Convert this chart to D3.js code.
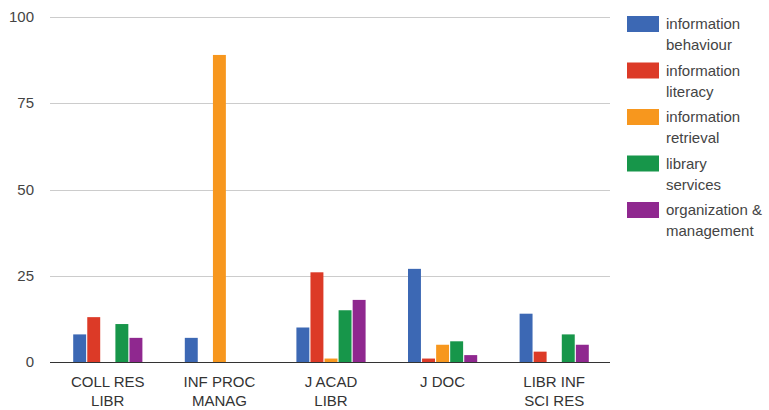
<!DOCTYPE html>
<html><head><meta charset="utf-8">
<script src="https://cdn.jsdelivr.net/npm/d3@7"></script>
<style>body{margin:0;background:#fff;} svg{display:block;font-family:"Liberation Sans",Arial,sans-serif;}</style>
</head><body>
<svg id="c" width="769" height="410"></svg>
<script>
const categories = [["COLL RES","LIBR"],["INF PROC","MANAG"],["J ACAD","LIBR"],["J DOC"],["LIBR INF","SCI RES"]];
const seriesNames = ["information behaviour","information literacy","information retrieval","library services","organization & management"];
const legendLines = [["information","behaviour"],["information","literacy"],["information","retrieval"],["library","services"],["organization &","management"]];
const colors = ["#3c68b4","#dc3a27","#f7971e","#17964a","#8f288f"];
const infoBehaviour = [8,7,10,27,14];
const infoLiteracy = [13,0,26,1,3];
const infoRetrieval = [0,89,1,5,0];
const libraryServices = [11,0,15,6,8];
const orgManagement = [7,0,18,2,5];
const yTicks = [0,25,50,75,100];

(function(){
const series = [infoBehaviour,infoLiteracy,infoRetrieval,libraryServices,orgManagement];
const svg = d3.select("#c");
const pl=52,pr=610,pt=17,pb=362;
const fs = 15;
const x0 = d3.scaleBand().domain(d3.range(categories.length)).range([pl,pr]).paddingInner(0).paddingOuter(0);
const x1 = d3.scaleBand().domain(d3.range(series.length)).range([0,x0.bandwidth()*0.62]).paddingInner(0.08);
const y = d3.scaleLinear().domain([0,100]).range([pb,pt]);

svg.append("g").selectAll("line").data(yTicks.filter(t=>t>0)).join("line")
  .attr("x1",50).attr("x2",pr).attr("y1",d=>Math.round(y(d))+0.5).attr("y2",d=>Math.round(y(d))+0.5)
  .attr("stroke","#cccccc").attr("stroke-width",1);
svg.append("g").selectAll("text").data(yTicks).join("text")
  .attr("x",34).attr("y",d=>y(d)+5).attr("text-anchor","end")
  .attr("font-size",fs).attr("fill","#444").text(d=>d);

const groupOffset = (x0.bandwidth()-x0.bandwidth()*0.62)/2;
const g = svg.append("g");
series.forEach((vals,si)=>{
  g.append("g").selectAll("rect").data(vals).join("rect")
    .attr("x",(d,i)=>x0(i)+groupOffset+x1(si))
    .attr("width",x1.bandwidth())
    .attr("y",d=>y(d))
    .attr("height",d=>pb-y(d))
    .attr("fill",colors[si]);
});
svg.append("line").attr("x1",50).attr("x2",pr).attr("y1",pb+0.5).attr("y2",pb+0.5)
  .attr("stroke","#333").attr("stroke-width",1);

const cl = svg.append("g").selectAll("text").data(categories).join("text")
  .attr("text-anchor","middle").attr("font-size",fs).attr("fill","#333");
cl.each(function(lines,i){
  const t=d3.select(this);
  lines.forEach((l,j)=>t.append("tspan").attr("x",x0(i)+x0.bandwidth()/2).attr("y",387+j*19).text(l));
});

const lg = svg.append("g");
legendLines.forEach((lines,i)=>{
  const yy = 16+i*46.5;
  lg.append("rect").attr("x",627).attr("y",yy).attr("width",32).attr("height",16).attr("fill",colors[i]);
  const t = lg.append("text").attr("font-size",fs).attr("fill","#444");
  lines.forEach((l,j)=>t.append("tspan").attr("x",666).attr("y",yy+13+j*21).text(l));
});
})();
</script>
</body></html>
